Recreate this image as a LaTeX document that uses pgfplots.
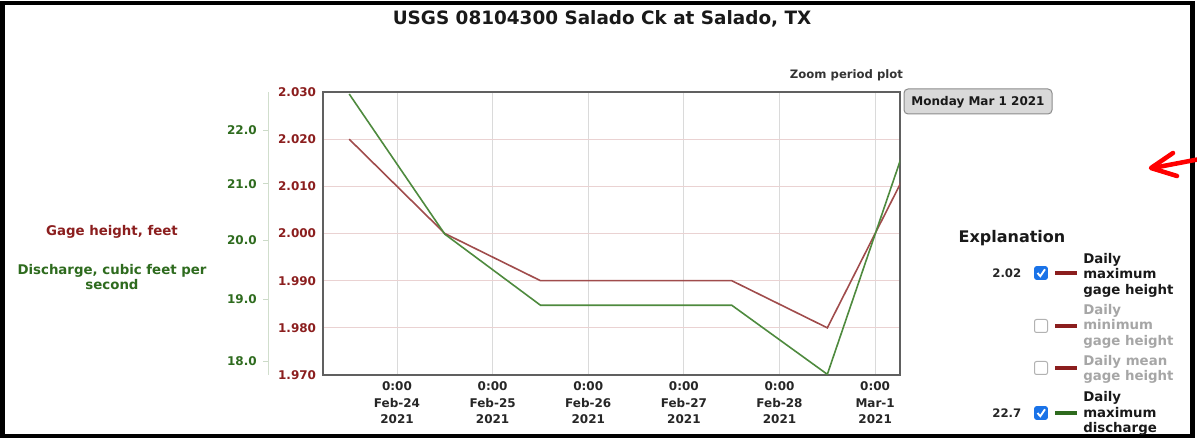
\documentclass[border=0pt]{standalone}
\usepackage{pgfplots}
\pgfplotsset{compat=1.18}
\usepackage{fontspec}
\setmainfont{DejaVu Sans}
\definecolor{gagered}{HTML}{8B1E1E}
\definecolor{gageline}{HTML}{A04C4C}
\definecolor{disgreen}{HTML}{2E6B1E}
\definecolor{disline}{HTML}{4E8A3E}
\definecolor{gridred}{HTML}{EAD2D2}
\definecolor{gridgray}{HTML}{DADADA}
\definecolor{frame}{HTML}{606060}
\definecolor{cbblue}{HTML}{1A73E8}
\newcommand\fs[2]{\fontsize{#1}{#2}\selectfont}
\begin{document}
\begin{tikzpicture}
\path[use as bounding box] (0,0) rectangle (897.75pt,-328.5pt);
% gage height axis (primary)
\begin{axis}[
  at={(242.25pt,-281.25pt)}, anchor=south west,
  scale only axis, width=432.75pt, height=212.25pt,
  xmin=-0.774, xmax=5.26, ymin=1.97, ymax=2.03,
  xtick={0,1,2,3,4,5},
  xticklabels={{0:00\\Feb-24\\2021},{0:00\\Feb-25\\2021},{0:00\\Feb-26\\2021},{0:00\\Feb-27\\2021},{0:00\\Feb-28\\2021},{0:00\\Mar-1\\2021}},
  xticklabel style={align=center, font=\bfseries\fs{9}{12.4}, text=black!85, inner sep=0pt, yshift=-5pt},
  ytick={1.97,1.98,1.99,2.00,2.01,2.02,2.03},
  yticklabels={1.970,1.980,1.990,2.000,2.010,2.020,2.030},
  yticklabel style={font=\bfseries\fs{9}{11}, text=gagered, inner sep=0pt, xshift=-5pt},
  scaled y ticks=false,
  major tick length=0pt,
  xmajorgrids, ymajorgrids,
  x grid style={gridgray, line width=0.75pt},
  y grid style={gridred, line width=0.75pt},
  axis line style={draw=frame, line width=1.6pt},
  clip=true,
]
\addplot[color=gageline, line width=1.2pt] coordinates {
  (-0.5,2.020) (0.5,2.000) (1.5,1.990) (2.5,1.990) (3.5,1.990) (4.5,1.980) (5.5,2.020)
};
\end{axis}
% discharge axis (log)
\begin{axis}[
  at={(201pt,-281.25pt)}, anchor=south west,
  scale only axis, width=474pt, height=212.25pt,
  xmin=-1.349, xmax=5.26,
  ymode=log, ymin=17.79, ymax=22.74,
  axis x line=none, axis y line*=left,
  xtick=\empty,
  ytick={18,19,20,21,22},
  yticklabels={18.0,19.0,20.0,21.0,22.0},
  minor ytick={},
  yticklabel style={font=\bfseries\fs{9}{11}, text=disgreen, inner sep=0pt, xshift=-4.5pt},
  tick align=outside, major tick length=3.75pt,
  every tick/.style={draw=disgreen!25, line width=0.75pt},
  y axis line style={draw=disgreen!22, line width=0.75pt},
  clip=true,
]
\addplot[color=disline, line width=1.2pt] coordinates {
  (-0.5,22.7) (0.5,20.1) (1.5,18.9) (2.5,18.9) (3.5,18.9) (4.5,17.8) (5.5,22.7)
};
\end{axis}
\begin{scope}[x=0.75pt,y=-0.75pt]
% border
\draw[line width=3.4pt] (2.5,3) rectangle (1192.5,436);
% title
\node[anchor=base, font=\bfseries\fs{13.8}{16}, text=black!90] at (602,25) {USGS 08104300 Salado Ck at Salado, TX};
% zoom period plot
\node[anchor=base, font=\bfseries\fs{8.75}{11}, text=black!80] at (846.5,78.5) {Zoom period plot};
% button
\draw[fill=black!15, draw=black!45, rounded corners=3pt, line width=0.75pt] (904,89) rectangle (1052,114);
\node[anchor=base, font=\bfseries\fs{9}{11}, text=black!90] at (978,106) {Monday Mar 1 2021};
% left labels
\node[anchor=base, font=\bfseries\fs{10}{12}, text=gagered] at (112,236) {Gage height, feet};
\node[anchor=base, font=\bfseries\fs{10}{12}, text=disgreen] at (112,275) {Discharge, cubic feet per};
\node[anchor=base, font=\bfseries\fs{10}{12}, text=disgreen] at (112,290) {second};
% legend
\node[anchor=base, font=\bfseries\fs{12}{14}, text=black!90] at (1012,243) {Explanation};
% entry 1
\node[anchor=base east, font=\bfseries\fs{8.8}{10}, text=black!85] at (1026,277.5) {2.02};
\draw[fill=cbblue, draw=cbblue, rounded corners=1.5pt] (1034.5,266.5) rectangle (1047.5,279.5);
\draw[white, line width=1.4pt] (1037.5,273) -- (1040.3,276.2) -- (1045,269.3);
\draw[gagered, line width=2.4pt] (1055,273) -- (1077,273);
\node[anchor=base west, font=\bfseries\fs{10}{12}, text=black!90, inner sep=0pt] at (1083,263.5) {Daily};
\node[anchor=base west, font=\bfseries\fs{10}{12}, text=black!90, inner sep=0pt] at (1083,279) {maximum};
\node[anchor=base west, font=\bfseries\fs{10}{12}, text=black!90, inner sep=0pt] at (1083,294.5) {gage height};
% entry 2
\draw[fill=white, draw=black!30, rounded corners=1.5pt, line width=0.75pt] (1034.5,319.5) rectangle (1047.5,332.5);
\draw[gagered, line width=2.4pt] (1055,326) -- (1077,326);
\node[anchor=base west, font=\bfseries\fs{10}{12}, text=black!35, inner sep=0pt] at (1083,314.5) {Daily};
\node[anchor=base west, font=\bfseries\fs{10}{12}, text=black!35, inner sep=0pt] at (1083,330) {minimum};
\node[anchor=base west, font=\bfseries\fs{10}{12}, text=black!35, inner sep=0pt] at (1083,345.5) {gage height};
% entry 3
\draw[fill=white, draw=black!30, rounded corners=1.5pt, line width=0.75pt] (1034.5,361.5) rectangle (1047.5,374.5);
\draw[gagered, line width=2.4pt] (1055,368) -- (1077,368);
\node[anchor=base west, font=\bfseries\fs{10}{12}, text=black!35, inner sep=0pt] at (1083,365.5) {Daily mean};
\node[anchor=base west, font=\bfseries\fs{10}{12}, text=black!35, inner sep=0pt] at (1083,381) {gage height};
% entry 4
\node[anchor=base east, font=\bfseries\fs{8.8}{10}, text=black!85] at (1026,417.5) {22.7};
\draw[fill=cbblue, draw=cbblue, rounded corners=1.5pt] (1034.5,406.5) rectangle (1047.5,419.5);
\draw[white, line width=1.4pt] (1037.5,413) -- (1040.3,416.2) -- (1045,409.3);
\draw[disgreen, line width=2.4pt] (1055,413) -- (1077,413);
\node[anchor=base west, font=\bfseries\fs{10}{12}, text=black!90, inner sep=0pt] at (1083,401.5) {Daily};
\node[anchor=base west, font=\bfseries\fs{10}{12}, text=black!90, inner sep=0pt] at (1083,417) {maximum};
\node[anchor=base west, font=\bfseries\fs{10}{12}, text=black!90, inner sep=0pt] at (1083,432.5) {discharge};
% red arrow
\draw[red, line width=3.4pt, line cap=round, line join=round] (1200,159) -- (1153,168);
\draw[red, line width=3.4pt, line cap=round, line join=round] (1173,153) -- (1151,168) -- (1177,176);
\end{scope}
\end{tikzpicture}
\end{document}
